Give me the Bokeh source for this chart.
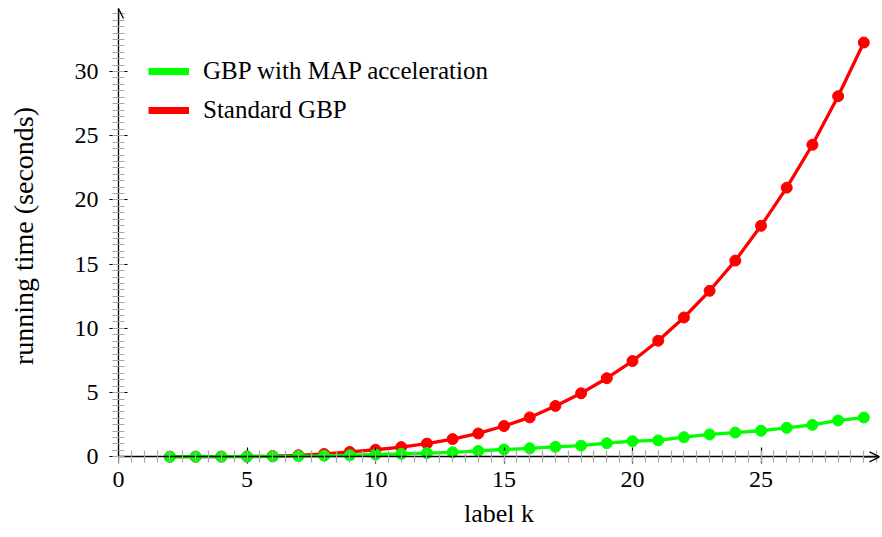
from bokeh.plotting import figure
from bokeh.models import (LinearAxis, FixedTicker, Range1d, Arrow, OpenHead,
                          Legend, LegendItem, ColumnDataSource)
from bokeh.embed import file_html
from bokeh.resources import INLINE

# ---------------- data ----------------
k_values = list(range(2, 30))
standard_gbp = [0.01, 0.01, 0.02, 0.03, 0.06, 0.12, 0.22, 0.38, 0.55, 0.76,
                1.03, 1.38, 1.82, 2.40, 3.07, 3.96, 4.95, 6.12, 7.46, 9.04,
                10.85, 12.93, 15.28, 17.99, 20.96, 24.30, 28.08, 32.26]
map_gbp = [0.00, 0.01, 0.01, 0.02, 0.03, 0.05, 0.08, 0.12, 0.18, 0.23,
           0.29, 0.35, 0.46, 0.57, 0.66, 0.78, 0.87, 1.06, 1.22, 1.28,
           1.53, 1.74, 1.89, 2.03, 2.26, 2.49, 2.83, 3.06]
series_labels = ["GBP with MAP acceleration", "Standard GBP"]
x_major_ticks = [0, 5, 10, 15, 20, 25]
y_major_ticks = [0, 5, 10, 15, 20, 25, 30]
x_minor_ticks = [i * 0.5 for i in range(0, 60)]
y_minor_ticks = [i * 0.5 for i in range(0, 70)]
x_axis_title = "label k"
y_axis_title = "running time (seconds)"

# ---------------- layout constants ----------------
X_END = 29.61
Y_START = -0.52
Y_END = 34.91
FONT = "Liberation Serif"
RED = "#ff0000"
GREEN = "#00ff00"
FRAME_BOTTOM = 463

p = figure(width=882, height=537, output_backend="svg", toolbar_location=None,
           x_range=Range1d(0, X_END), y_range=Range1d(Y_START, Y_END),
           x_axis_type=None, y_axis_type=None,
           min_border_left=118, min_border_right=3, min_border_top=8,
           min_border_bottom=537 - FRAME_BOTTOM, outline_line_color=None,
           background_fill_color="white", border_fill_color="white")

tick_style = dict(
    axis_line_color="black", axis_line_width=1.3,
    major_tick_in=9, major_tick_out=9, minor_tick_in=6, minor_tick_out=6,
    major_tick_line_color="black", major_tick_line_width=1.2,
    minor_tick_line_color="#a8a8a8", minor_tick_line_width=1.2,
)

# x axis line + ticks through y = 0 (its labels are drawn by the axis below)
x_line_axis = LinearAxis(fixed_location=0, bounds=(0, X_END),
                         ticker=FixedTicker(ticks=x_major_ticks, minor_ticks=x_minor_ticks),
                         major_label_text_font_size="0px", major_label_text_color=None,
                         major_label_standoff=0, **tick_style)
p.add_layout(x_line_axis, "above")

# x tick labels and title
x_label_axis = LinearAxis(ticker=FixedTicker(ticks=x_major_ticks, minor_ticks=[]),
                          axis_line_color=None, major_tick_line_color=None,
                          minor_tick_line_color=None, major_tick_in=0, major_tick_out=0,
                          minor_tick_in=0, minor_tick_out=0,
                          major_label_standoff=8,
                          major_label_text_font=FONT, major_label_text_font_size="24px",
                          major_label_text_color="black",
                          axis_label=x_axis_title, axis_label_standoff=9,
                          axis_label_text_font=FONT, axis_label_text_font_size="26px",
                          axis_label_text_font_style="normal",
                          axis_label_text_color="black")
p.add_layout(x_label_axis, "below")

yaxis = LinearAxis(bounds=(0, Y_END),
                   ticker=FixedTicker(ticks=y_major_ticks, minor_ticks=y_minor_ticks),
                   major_label_standoff=11,
                   major_label_text_font=FONT, major_label_text_font_size="24px",
                   major_label_text_color="black",
                   axis_label=y_axis_title, axis_label_standoff=33,
                   axis_label_text_font=FONT, axis_label_text_font_size="28px",
                   axis_label_text_font_style="normal", axis_label_text_color="black",
                   **tick_style)
p.add_layout(yaxis, "left")

# axis arrows
p.add_layout(Arrow(end=OpenHead(size=10, line_width=1.3, line_color="black"),
                   x_start=X_END - 0.6, y_start=0, x_end=X_END, y_end=0,
                   line_width=1.3, line_color="black"))
p.add_layout(Arrow(end=OpenHead(size=10, line_width=1.3, line_color="black"),
                   x_start=0, y_start=Y_END - 1.2, x_end=0, y_end=Y_END,
                   line_width=1.3, line_color="black"))

# data
src = ColumnDataSource(dict(k=k_values, std=standard_gbp, mapg=map_gbp))
p.line("k", "std", source=src, line_color=RED, line_width=3.3)
p.scatter("k", "std", source=src, size=11, fill_color=RED, line_color=RED)
p.line("k", "mapg", source=src, line_color=GREEN, line_width=3.3)
p.scatter("k", "mapg", source=src, size=11, fill_color=GREEN, line_color=GREEN)

# legend samples: thick lines (hidden renderers, shown only in the legend)
g_key = p.line("k", "mapg", source=src, line_color=GREEN, line_width=7, visible=False)
r_key = p.line("k", "std", source=src, line_color=RED, line_width=7, visible=False)
legend = Legend(items=[LegendItem(label=series_labels[0], renderers=[g_key]),
                       LegendItem(label=series_labels[1], renderers=[r_key])],
                location=(30, FRAME_BOTTOM - 124.7), margin=0, padding=0, spacing=9,
                glyph_width=41, glyph_height=30, label_height=30,
                label_standoff=14, label_text_font=FONT,
                label_text_font_size="25px", label_text_color="black",
                border_line_color=None, background_fill_alpha=0)
p.add_layout(legend)

open("out.html", "w").write(file_html(p, INLINE))
